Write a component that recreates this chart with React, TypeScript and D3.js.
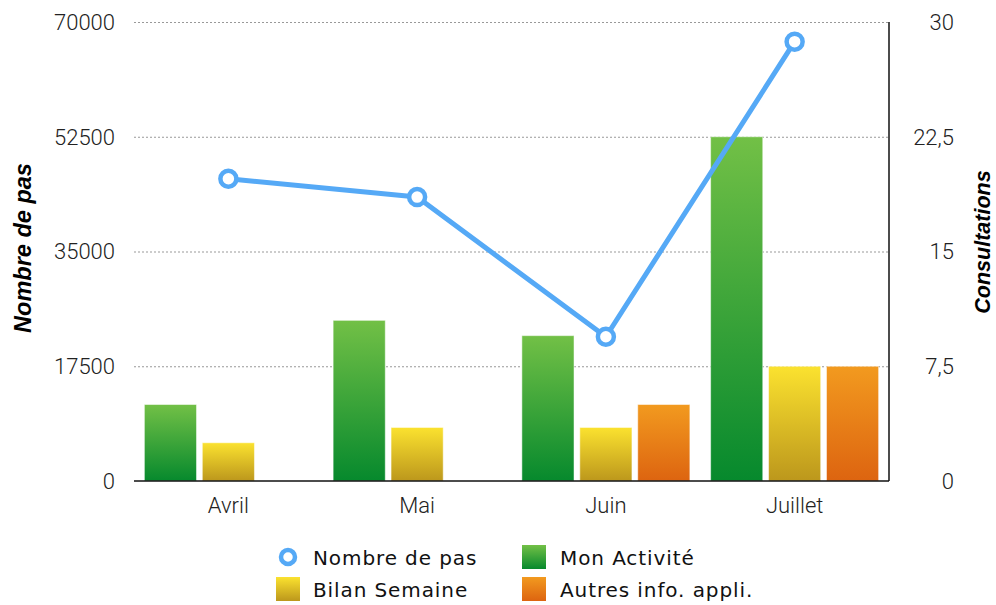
import React from "react";
import * as d3 from "d3";

// months on the x axis
const months = ["Avril", "Mai", "Juin", "Juillet"];
// steps (left axis)
const nombreDePas = [46100, 43300, 22000, 67000];
// consultations (right axis)
const monActivite = [5, 10.5, 9.5, 22.5];
const bilanSemaine = [2.5, 3.5, 3.5, 7.5];
const autresInfo = [0, 0, 5, 7.5];
const leftTicks = [0, 17500, 35000, 52500, 70000];
const rightTicks = [0, 7.5, 15, 22.5, 30];

const barSeries = [
  { name: "Mon Activité", values: monActivite, id: "gGreen", top: "#72c046", bottom: "#06892d" },
  { name: "Bilan Semaine", values: bilanSemaine, id: "gYellow", top: "#fbe22f", bottom: "#bc971c" },
  { name: "Autres info. appli.", values: autresInfo, id: "gOrange", top: "#f29a1f", bottom: "#dd6410" },
];

const W = 996, H = 605;
const margin = { left: 134, right: 107, top: 22, bottom: 124 };
const innerW = W - margin.left - margin.right;
const innerH = H - margin.top - margin.bottom;

export default function App() {
  const x = d3.scaleBand().domain(months).range([0, innerW]);
  const slot = d3.scaleBand().domain(["0", "1", "2"]).range([-84, 84]).paddingInner(0.1);
  const yLeft = d3.scaleLinear().domain([0, 70000]).range([innerH, 0]);
  const yRight = d3.scaleLinear().domain([0, 30]).range([innerH, 0]);
  const line = d3.line<number>()
    .x((d, i) => (x(months[i]) as number) + x.bandwidth() / 2)
    .y(d => yLeft(d));

  const tickFont = { fontFamily: "Roboto, Liberation Sans, Arial", fontSize: 22, fontWeight: 300, fill: "#222" };
  const legendFont = { fontFamily: "DejaVu Sans, sans-serif", fontSize: 20, letterSpacing: 0.9, fill: "#111" };
  const titleStyle = { fontFamily: "Liberation Sans, Arial", fontWeight: "bold", fontStyle: "italic" } as React.CSSProperties;

  return (
    <svg width={W} height={H} style={{ position: "absolute", left: 0, top: 0, background: "#fff" }}>
      <defs>
        {barSeries.map(s => (
          <linearGradient key={s.id} id={s.id} x1="0" y1="0" x2="0" y2="1">
            <stop offset="0" stopColor={s.top} />
            <stop offset="1" stopColor={s.bottom} />
          </linearGradient>
        ))}
      </defs>
      <g transform={`translate(${margin.left},${margin.top})`}>
        {/* grid */}
        {leftTicks.filter(t => t > 0).map(t => (
          <line key={t} x1={0} x2={innerW} y1={yLeft(t) + 0.5} y2={yLeft(t) + 0.5}
            stroke="#999" strokeWidth={1} strokeDasharray="2,2" />
        ))}
        {/* bars */}
        {barSeries.map((s, si) =>
          s.values.map((v, i) => v > 0 && (
            <rect key={s.id + i}
              x={(x(months[i]) as number) + x.bandwidth() / 2 + (slot(String(si)) as number)}
              y={yRight(v)} width={slot.bandwidth()} height={innerH - yRight(v)}
              fill={`url(#${s.id})`} stroke="rgba(255,255,255,0.5)" strokeWidth={1} />
          ))
        )}
        {/* axes */}
        <line x1={0} x2={innerW} y1={innerH} y2={innerH} stroke="#111" strokeWidth={1.5} />
        <line x1={innerW} x2={innerW} y1={0} y2={innerH} stroke="#111" strokeWidth={1.5} />
        {leftTicks.map(t => (
          <text key={t} x={-19} y={yLeft(t)} dy="0.36em" textAnchor="end" {...tickFont}>{t}</text>
        ))}
        {rightTicks.map(t => (
          <text key={t} x={innerW + 65} y={yRight(t)} dy="0.36em" textAnchor="end" {...tickFont}>
            {String(t).replace(".", ",")}
          </text>
        ))}
        {months.map(m => (
          <text key={m} x={(x(m) as number) + x.bandwidth() / 2} y={innerH + 32} textAnchor="middle" {...tickFont}>{m}</text>
        ))}
        {/* line */}
        <path d={line(nombreDePas) || ""} fill="none" stroke="#55a9f6" strokeWidth={5} strokeLinejoin="round" />
        {nombreDePas.map((v, i) => (
          <circle key={i} cx={(x(months[i]) as number) + x.bandwidth() / 2} cy={yLeft(v)} r={8}
            fill="#fff" stroke="#55a9f6" strokeWidth={4.5} />
        ))}
      </g>
      {/* axis titles */}
      <text transform={`translate(31,248) rotate(-90)`} textAnchor="middle" fontSize={23.5} style={titleStyle}>Nombre de pas</text>
      <text transform={`translate(990,242) rotate(-90)`} textAnchor="middle" fontSize={21.5} style={titleStyle}>Consultations</text>
      {/* legend */}
      <g>
        <circle cx={288} cy={557} r={7} fill="#fff" stroke="#55a9f6" strokeWidth={4.5} />
        <text x={313} y={565} {...legendFont}>Nombre de pas</text>
        <rect x={522} y={545} width={24} height={24} fill="url(#gGreen)" />
        <text x={560} y={565} {...legendFont}>Mon Activité</text>
        <rect x={276} y={577} width={24} height={24} fill="url(#gYellow)" />
        <text x={313} y={597} {...legendFont}>Bilan Semaine</text>
        <rect x={522} y={577} width={24} height={24} fill="url(#gOrange)" />
        <text x={560} y={597} {...legendFont}>Autres info. appli.</text>
      </g>
    </svg>
  );
}
